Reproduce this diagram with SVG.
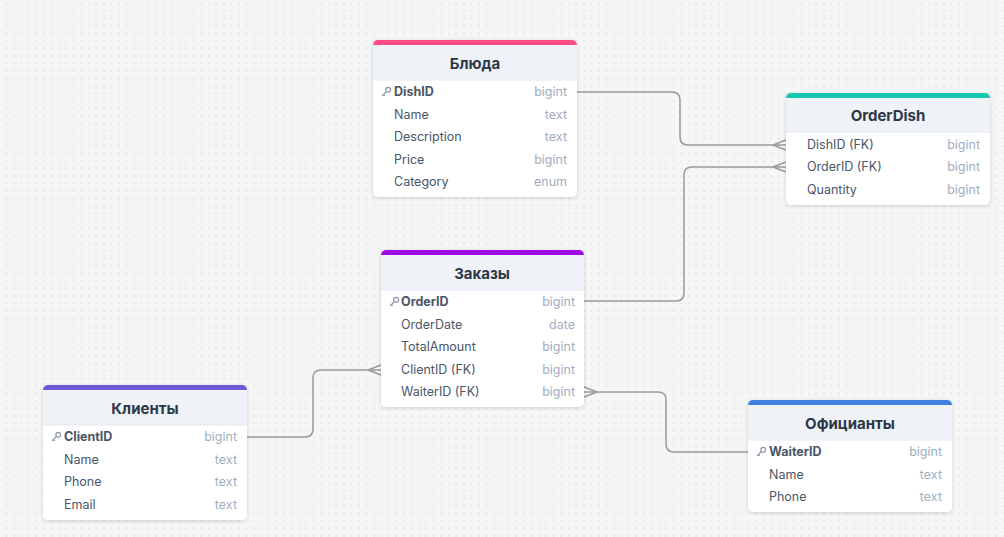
<svg xmlns="http://www.w3.org/2000/svg" width="1004" height="537" viewBox="0 0 1004 537">
<defs>
<pattern id="dots" x="2.5" y="-0.5" width="7.5" height="7.5" patternUnits="userSpaceOnUse">
<rect x="3.3" y="3.3" width="1.2" height="1.2" fill="#d2d2d2"/>
</pattern>
<filter id="sh" x="-10%" y="-10%" width="120%" height="130%">
<feDropShadow dx="0" dy="1" stdDeviation="2" flood-color="#000" flood-opacity="0.16"/>
</filter>
<g id="key">
<circle cx="3.2" cy="-2.2" r="2.4" fill="none" stroke="#8a94a6" stroke-width="1.1"/>
<path d="M1.5,-0.5 L-2.5,3.5 M-1.5,2.5 L-0.5,3.5" fill="none" stroke="#8a94a6" stroke-width="1.1" stroke-linecap="round"/>
</g>
</defs>
<style>
.card{fill:#ffffff;filter:url(#sh)}
.hdr{fill:#eff3f8}
.sep{stroke:#e2e8f0;stroke-width:1}
.title{font-family:Inter,"Liberation Sans",sans-serif;font-size:15px;font-weight:700;fill:#2d3748;text-anchor:middle}
.fn{font-family:Inter,"Liberation Sans",sans-serif;font-size:12.5px;fill:#4a5568}
.pk{font-weight:700}
.ty{font-family:Inter,"Liberation Sans",sans-serif;font-size:12.5px;fill:#a0aec0;text-anchor:end}
.conn{fill:none;stroke:#9a9a9a;stroke-width:1.5}
</style>
<rect width="1004" height="537" fill="#f6f6f6"/>
<rect width="1004" height="537" fill="url(#dots)"/>

<g id="connectors">
<path class="conn" d="M577,92 H672 Q680,92 680,100 V137 Q680,145 688,145 H786"/>
<path class="conn" d="M773,145 L786,140 M773,145 L786,150"/>
<path class="conn" d="M584,301 H676 Q684,301 684,293 V175 Q684,167 692,167 H786"/>
<path class="conn" d="M773,167 L786,162 M773,167 L786,172"/>
<path class="conn" d="M247,437 H305 Q313,437 313,429 V378 Q313,370 321,370 H381"/>
<path class="conn" d="M368,370 L381,365 M368,370 L381,375"/>
<path class="conn" d="M748,452 H674 Q666,452 666,444 V400 Q666,392 658,392 H584"/>
<path class="conn" d="M597,392 L584,387 M597,392 L584,397"/>
</g>

<g id="table-bliuda">
<rect class="card" x="373" y="40" width="204" height="157" rx="5"/>
<rect x="373" y="40" width="204" height="12" rx="5" fill="#ff4b86"/>
<rect class="hdr" x="373" y="45" width="204" height="35"/>
<line class="sep" x1="373" y1="80" x2="577" y2="80"/>
<text class="title" x="475" y="69">Блюда</text>
<use href="#key" x="385" y="92"/>
<text class="fn pk" x="394" y="96">DishID</text><text class="ty" x="567" y="96">bigint</text>
<text class="fn" x="394" y="119">Name</text><text class="ty" x="567" y="119">text</text>
<text class="fn" x="394" y="141">Description</text><text class="ty" x="567" y="141">text</text>
<text class="fn" x="394" y="164">Price</text><text class="ty" x="567" y="164">bigint</text>
<text class="fn" x="394" y="186">Category</text><text class="ty" x="567" y="186">enum</text>
</g>

<g id="table-orderdish">
<rect class="card" x="786" y="93" width="204" height="112" rx="5"/>
<rect x="786" y="93" width="204" height="12" rx="5" fill="#14c8b0"/>
<rect class="hdr" x="786" y="98" width="204" height="34"/>
<line class="sep" x1="786" y1="132" x2="990" y2="132"/>
<text class="title" x="888" y="121">OrderDish</text>
<text class="fn" x="807" y="149">DishID (FK)</text><text class="ty" x="980" y="149">bigint</text>
<text class="fn" x="807" y="171">OrderID (FK)</text><text class="ty" x="980" y="171">bigint</text>
<text class="fn" x="807" y="194">Quantity</text><text class="ty" x="980" y="194">bigint</text>
</g>

<g id="table-zakazy">
<rect class="card" x="381" y="250" width="203" height="157" rx="5"/>
<rect x="381" y="250" width="203" height="12" rx="5" fill="#a00ae2"/>
<rect class="hdr" x="381" y="255" width="203" height="35"/>
<line class="sep" x1="381" y1="290" x2="584" y2="290"/>
<text class="title" x="482" y="279">Заказы</text>
<use href="#key" x="393" y="302"/>
<text class="fn pk" x="401" y="306">OrderID</text><text class="ty" x="575" y="306">bigint</text>
<text class="fn" x="401" y="329">OrderDate</text><text class="ty" x="575" y="329">date</text>
<text class="fn" x="401" y="351">TotalAmount</text><text class="ty" x="575" y="351">bigint</text>
<text class="fn" x="401" y="374">ClientID (FK)</text><text class="ty" x="575" y="374">bigint</text>
<text class="fn" x="401" y="396">WaiterID (FK)</text><text class="ty" x="575" y="396">bigint</text>
</g>

<g id="table-klienty">
<rect class="card" x="43" y="385" width="204" height="135" rx="5"/>
<rect x="43" y="385" width="204" height="12" rx="5" fill="#6f58d4"/>
<rect class="hdr" x="43" y="390" width="204" height="35"/>
<line class="sep" x1="43" y1="425" x2="247" y2="425"/>
<text class="title" x="145" y="414">Клиенты</text>
<use href="#key" x="55" y="437"/>
<text class="fn pk" x="64" y="441">ClientID</text><text class="ty" x="237" y="441">bigint</text>
<text class="fn" x="64" y="464">Name</text><text class="ty" x="237" y="464">text</text>
<text class="fn" x="64" y="486">Phone</text><text class="ty" x="237" y="486">text</text>
<text class="fn" x="64" y="509">Email</text><text class="ty" x="237" y="509">text</text>
</g>

<g id="table-oficianty">
<rect class="card" x="748" y="400" width="204" height="112" rx="5"/>
<rect x="748" y="400" width="204" height="12" rx="5" fill="#3e7fe0"/>
<rect class="hdr" x="748" y="405" width="204" height="35"/>
<line class="sep" x1="748" y1="440" x2="952" y2="440"/>
<text class="title" x="850" y="429">Официанты</text>
<use href="#key" x="760" y="452"/>
<text class="fn pk" x="769" y="456">WaiterID</text><text class="ty" x="942" y="456">bigint</text>
<text class="fn" x="769" y="479">Name</text><text class="ty" x="942" y="479">text</text>
<text class="fn" x="769" y="501">Phone</text><text class="ty" x="942" y="501">text</text>
</g>
</svg>
